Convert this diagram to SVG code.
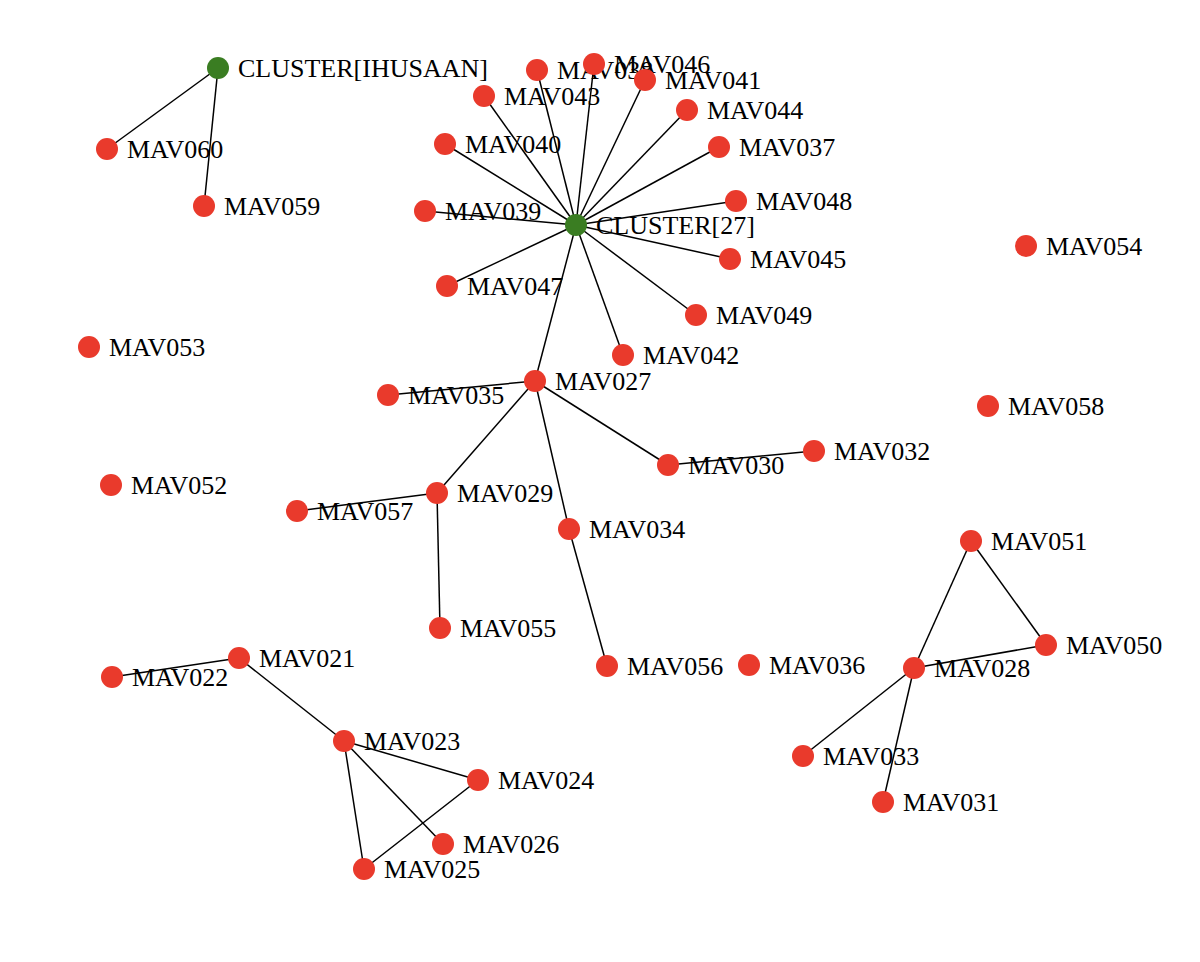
<svg xmlns="http://www.w3.org/2000/svg" width="1200" height="962" viewBox="0 0 1200 962">
<style>
.n{fill:#e93a2c}
.g{fill:#3a7d22}
text{font-family:"Liberation Serif","Times New Roman",serif;font-size:26px;fill:#000}
#edges line{stroke:#000;stroke-width:1.5}
</style>
<rect width="1200" height="962" fill="#fff"/>
<g id="edges">
<line x1="218" y1="68" x2="107" y2="149"/>
<line x1="218" y1="68" x2="204" y2="206"/>
<line x1="576" y1="225" x2="537" y2="70"/>
<line x1="576" y1="225" x2="594" y2="64"/>
<line x1="576" y1="225" x2="645" y2="80"/>
<line x1="576" y1="225" x2="484" y2="96"/>
<line x1="576" y1="225" x2="687" y2="110"/>
<line x1="576" y1="225" x2="445" y2="144"/>
<line x1="576" y1="225" x2="719" y2="147"/>
<line x1="576" y1="225" x2="736" y2="201"/>
<line x1="576" y1="225" x2="425" y2="211"/>
<line x1="576" y1="225" x2="730" y2="259"/>
<line x1="576" y1="225" x2="447" y2="286"/>
<line x1="576" y1="225" x2="696" y2="315"/>
<line x1="576" y1="225" x2="623" y2="355"/>
<line x1="576" y1="225" x2="535" y2="381"/>
<line x1="535" y1="381" x2="388" y2="395"/>
<line x1="535" y1="381" x2="437" y2="493"/>
<line x1="535" y1="381" x2="569" y2="529"/>
<line x1="535" y1="381" x2="668" y2="465"/>
<line x1="668" y1="465" x2="814" y2="451"/>
<line x1="437" y1="493" x2="297" y2="511"/>
<line x1="437" y1="493" x2="440" y2="628"/>
<line x1="569" y1="529" x2="607" y2="666"/>
<line x1="971" y1="541" x2="914" y2="668"/>
<line x1="971" y1="541" x2="1046" y2="645"/>
<line x1="914" y1="668" x2="1046" y2="645"/>
<line x1="914" y1="668" x2="803" y2="756"/>
<line x1="914" y1="668" x2="883" y2="802"/>
<line x1="239" y1="658" x2="112" y2="677"/>
<line x1="239" y1="658" x2="344" y2="741"/>
<line x1="344" y1="741" x2="478" y2="780"/>
<line x1="344" y1="741" x2="443" y2="844"/>
<line x1="344" y1="741" x2="364" y2="869"/>
<line x1="478" y1="780" x2="364" y2="869"/>
</g>
<g id="CLUSTER_IHUSAAN"><circle class="g" cx="218" cy="68" r="11"/><text x="238" y="77">CLUSTER[IHUSAAN]</text></g>
<g id="MAV060"><circle class="n" cx="107" cy="149" r="11"/><text x="127" y="158">MAV060</text></g>
<g id="MAV059"><circle class="n" cx="204" cy="206" r="11"/><text x="224" y="215">MAV059</text></g>
<g id="MAV038"><circle class="n" cx="537" cy="70" r="11"/><text x="557" y="79">MAV038</text></g>
<g id="MAV046"><circle class="n" cx="594" cy="64" r="11"/><text x="614" y="73">MAV046</text></g>
<g id="MAV041"><circle class="n" cx="645" cy="80" r="11"/><text x="665" y="89">MAV041</text></g>
<g id="MAV043"><circle class="n" cx="484" cy="96" r="11"/><text x="504" y="105">MAV043</text></g>
<g id="MAV044"><circle class="n" cx="687" cy="110" r="11"/><text x="707" y="119">MAV044</text></g>
<g id="MAV040"><circle class="n" cx="445" cy="144" r="11"/><text x="465" y="153">MAV040</text></g>
<g id="MAV037"><circle class="n" cx="719" cy="147" r="11"/><text x="739" y="156">MAV037</text></g>
<g id="MAV048"><circle class="n" cx="736" cy="201" r="11"/><text x="756" y="210">MAV048</text></g>
<g id="MAV039"><circle class="n" cx="425" cy="211" r="11"/><text x="445" y="220">MAV039</text></g>
<g id="CLUSTER_27"><circle class="g" cx="576" cy="225" r="11"/><text x="596" y="234">CLUSTER[27]</text></g>
<g id="MAV045"><circle class="n" cx="730" cy="259" r="11"/><text x="750" y="268">MAV045</text></g>
<g id="MAV054"><circle class="n" cx="1026" cy="246" r="11"/><text x="1046" y="255">MAV054</text></g>
<g id="MAV047"><circle class="n" cx="447" cy="286" r="11"/><text x="467" y="295">MAV047</text></g>
<g id="MAV049"><circle class="n" cx="696" cy="315" r="11"/><text x="716" y="324">MAV049</text></g>
<g id="MAV053"><circle class="n" cx="89" cy="347" r="11"/><text x="109" y="356">MAV053</text></g>
<g id="MAV042"><circle class="n" cx="623" cy="355" r="11"/><text x="643" y="364">MAV042</text></g>
<g id="MAV027"><circle class="n" cx="535" cy="381" r="11"/><text x="555" y="390">MAV027</text></g>
<g id="MAV035"><circle class="n" cx="388" cy="395" r="11"/><text x="408" y="404">MAV035</text></g>
<g id="MAV058"><circle class="n" cx="988" cy="406" r="11"/><text x="1008" y="415">MAV058</text></g>
<g id="MAV032"><circle class="n" cx="814" cy="451" r="11"/><text x="834" y="460">MAV032</text></g>
<g id="MAV030"><circle class="n" cx="668" cy="465" r="11"/><text x="688" y="474">MAV030</text></g>
<g id="MAV052"><circle class="n" cx="111" cy="485" r="11"/><text x="131" y="494">MAV052</text></g>
<g id="MAV029"><circle class="n" cx="437" cy="493" r="11"/><text x="457" y="502">MAV029</text></g>
<g id="MAV057"><circle class="n" cx="297" cy="511" r="11"/><text x="317" y="520">MAV057</text></g>
<g id="MAV034"><circle class="n" cx="569" cy="529" r="11"/><text x="589" y="538">MAV034</text></g>
<g id="MAV051"><circle class="n" cx="971" cy="541" r="11"/><text x="991" y="550">MAV051</text></g>
<g id="MAV055"><circle class="n" cx="440" cy="628" r="11"/><text x="460" y="637">MAV055</text></g>
<g id="MAV050"><circle class="n" cx="1046" cy="645" r="11"/><text x="1066" y="654">MAV050</text></g>
<g id="MAV021"><circle class="n" cx="239" cy="658" r="11"/><text x="259" y="667">MAV021</text></g>
<g id="MAV022"><circle class="n" cx="112" cy="677" r="11"/><text x="132" y="686">MAV022</text></g>
<g id="MAV056"><circle class="n" cx="607" cy="666" r="11"/><text x="627" y="675">MAV056</text></g>
<g id="MAV036"><circle class="n" cx="749" cy="665" r="11"/><text x="769" y="674">MAV036</text></g>
<g id="MAV028"><circle class="n" cx="914" cy="668" r="11"/><text x="934" y="677">MAV028</text></g>
<g id="MAV023"><circle class="n" cx="344" cy="741" r="11"/><text x="364" y="750">MAV023</text></g>
<g id="MAV024"><circle class="n" cx="478" cy="780" r="11"/><text x="498" y="789">MAV024</text></g>
<g id="MAV033"><circle class="n" cx="803" cy="756" r="11"/><text x="823" y="765">MAV033</text></g>
<g id="MAV031"><circle class="n" cx="883" cy="802" r="11"/><text x="903" y="811">MAV031</text></g>
<g id="MAV026"><circle class="n" cx="443" cy="844" r="11"/><text x="463" y="853">MAV026</text></g>
<g id="MAV025"><circle class="n" cx="364" cy="869" r="11"/><text x="384" y="878">MAV025</text></g>
</svg>
